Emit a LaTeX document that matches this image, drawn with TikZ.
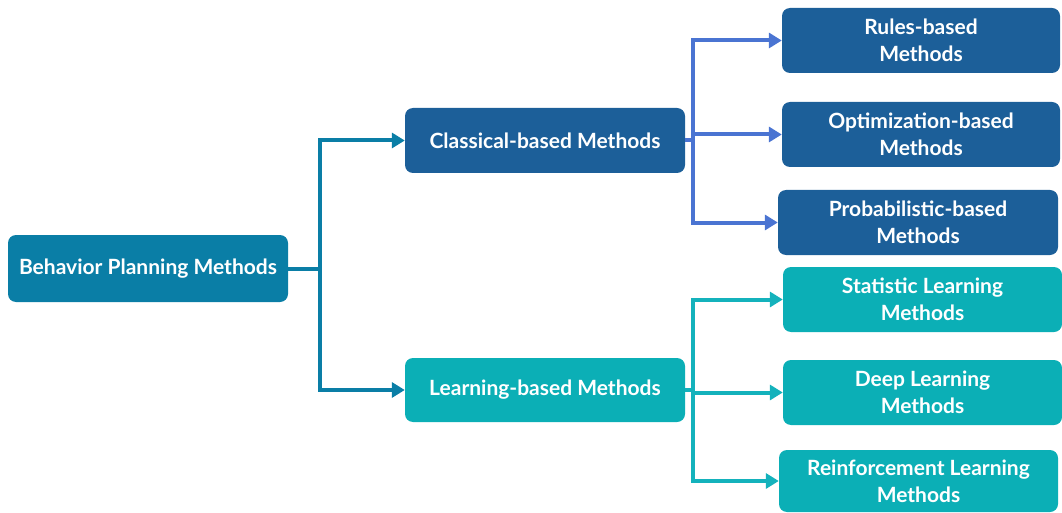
\documentclass[tikz,border=0pt]{standalone}
\usepackage{fontspec}
\setmainfont{Lato}
\usetikzlibrary{arrows.meta}
\definecolor{rootc}{HTML}{0A7EA6}
\definecolor{darkb}{HTML}{1C5F99}
\definecolor{lineb}{HTML}{4A74D2}
\definecolor{tealc}{HTML}{0BAFB6}
\definecolor{linet}{HTML}{14B2BC}
\tikzset{
  box/.style={rectangle, rounded corners=8pt, text=white, align=center,
    font=\fontsize{21}{27}\selectfont\bfseries, inner sep=0pt},
  conn/.style={line width=4pt, -{Triangle[length=13pt,width=15pt]}},
  plain/.style={line width=4pt}
}
\begin{document}
\begin{tikzpicture}[x=1pt,y=-1pt]
\useasboundingbox (0,0) rectangle (1062,513);
\node[box, fill=rootc, minimum width=280pt, minimum height=67pt] (root) at (148,268.5) {Behavior Planning Methods};
\node[box, fill=darkb, minimum width=280pt, minimum height=65pt] (cl) at (545,140.5) {Classical-based Methods};
\node[box, fill=tealc, minimum width=280pt, minimum height=64pt] (le) at (545,390) {Learning-based Methods};
\node[box, fill=darkb, minimum width=278pt, minimum height=65pt] (ru) at (921,40.5) {Rules-based\\Methods};
\node[box, fill=darkb, minimum width=278pt, minimum height=65pt] (op) at (921,134.5) {Optimization-based\\Methods};
\node[box, fill=darkb, minimum width=280pt, minimum height=65pt] (pr) at (918,222.5) {Probabilistic-based\\Methods};
\node[box, fill=tealc, minimum width=279pt, minimum height=65pt] (st) at (922.5,299.5) {Statistic Learning\\Methods};
\node[box, fill=tealc, minimum width=279pt, minimum height=65pt] (de) at (922.5,392.5) {Deep Learning\\Methods};
\node[box, fill=tealc, minimum width=279pt, minimum height=62pt] (re) at (918.5,481) {Reinforcement Learning\\Methods};
\coordinate (rj) at (320,268.5);
\coordinate (cj) at (693,140.5);
\coordinate (lj) at (693,390);
\draw[plain, rootc] (root.east) -- (rj);
\draw[conn, rootc] (rj) |- (cl.west);
\draw[conn, rootc] (rj) |- (le.west);
\draw[plain, lineb] (cl.east) -- (cj);
\draw[conn, lineb] (cj) |- (ru.west);
\draw[conn, lineb] (cj) |- (op.west);
\draw[conn, lineb] (cj) |- (pr.west);
\draw[plain, linet] (le.east) -- (lj);
\draw[conn, linet] (lj) |- (st.west);
\draw[conn, linet] (lj) |- (de.west);
\draw[conn, linet] (lj) |- (re.west);
\end{tikzpicture}
\end{document}
